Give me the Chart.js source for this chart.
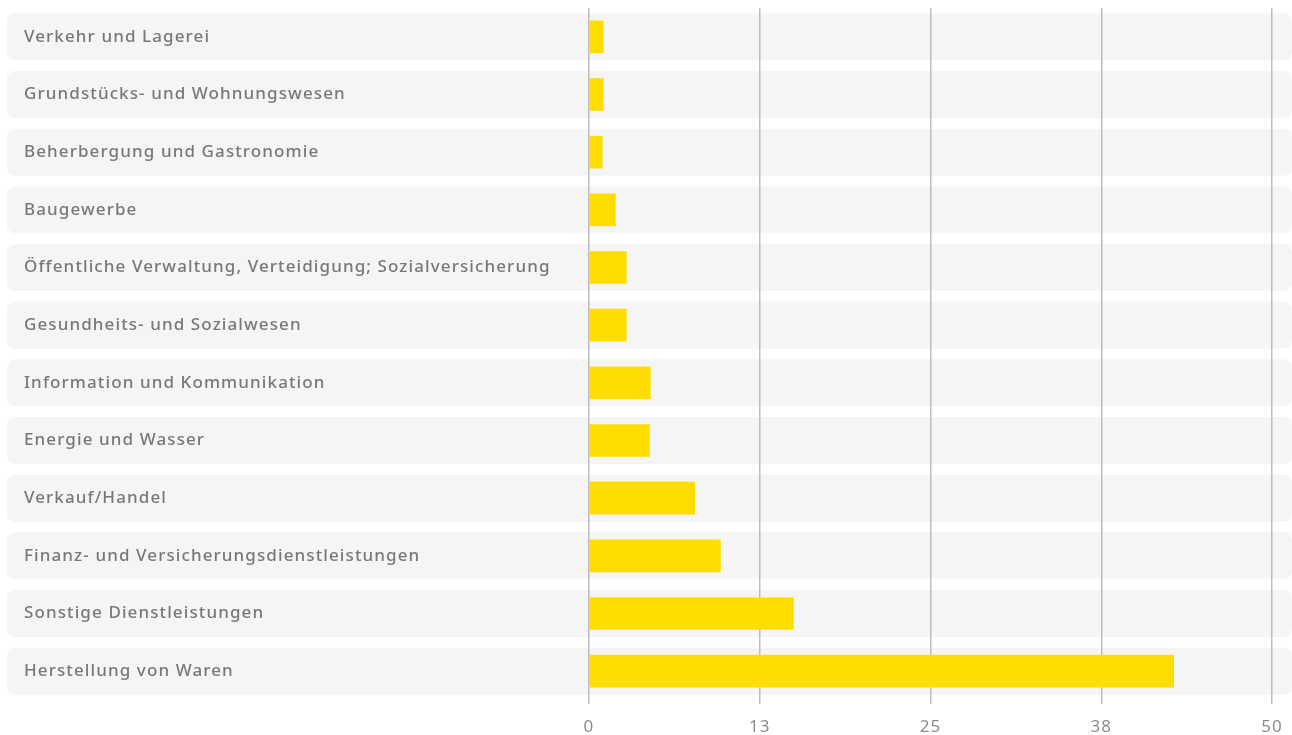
<!DOCTYPE html>
<html>
<head>
<meta charset="utf-8">
<script src="https://cdn.jsdelivr.net/npm/chart.js@4"></script>
<style>
  body { margin: 0; background: #fff; }
  #wrap { width: 1292px; height: 735px; }
</style>
</head>
<body>
<div id="wrap"><canvas id="chart" width="1292" height="735"></canvas></div>
<script>
// Branchen und Werte
var branchen = [
    'Verkehr und Lagerei',
    'Grundstücks- und Wohnungswesen',
    'Beherbergung und Gastronomie',
    'Baugewerbe',
    'Öffentliche Verwaltung, Verteidigung; Sozialversicherung',
    'Gesundheits- und Sozialwesen',
    'Information und Kommunikation',
    'Energie und Wasser',
    'Verkauf/Handel',
    'Finanz- und Versicherungsdienstleistungen',
    'Sonstige Dienstleistungen',
    'Herstellung von Waren'
];
var werte = [1.05, 1.05, 0.97, 1.93, 2.73, 2.73, 4.49, 4.42, 7.74, 9.62, 14.96, 42.8];
var achseMin = 0;
var achseMax = 50;
var achseSchritt = 12.5;

var schrift = "'Noto Sans', sans-serif";

// graue Zeilen-Hintergründe hinter jeder Kategorie
var zeilenPlugin = {
    id: 'zeilen',
    beforeDraw: function(chart) {
        var ctx = chart.ctx;
        var y = chart.scales.y;
        var hoehe = 47;
        // etwas breitere Schrift für alle Beschriftungen
        ctx.letterSpacing = '1.1px';
        ctx.save();
        ctx.fillStyle = '#f5f5f5';
        branchen.forEach(function(b, i) {
            var cy = y.getPixelForValue(i);
            ctx.beginPath();
            ctx.roundRect(7, cy - hoehe / 2, chart.width - 7, hoehe, 8);
            ctx.fill();
        });
        ctx.restore();
    }
};

var ctx = document.getElementById('chart').getContext('2d');
new Chart(ctx, {
    type: 'bar',
    data: {
        labels: branchen,
        datasets: [{
            data: werte,
            backgroundColor: '#ffdd00',
            barThickness: 32
        }]
    },
    options: {
        indexAxis: 'y',
        responsive: false,
        animation: false,
        layout: { padding: { left: 24, right: 20, top: 8, bottom: 0 } },
        plugins: {
            legend: { display: false },
            tooltip: { enabled: false }
        },
        scales: {
            x: {
                min: achseMin,
                max: achseMax,
                border: { display: false },
                grid: {
                    color: '#bdbdbd',
                    lineWidth: 1.5,
                    drawTicks: true,
                    tickLength: 4
                },
                afterFit: function(scale) {
                    scale.height = 35;
                    scale.paddingRight = 0;
                },
                ticks: {
                    stepSize: achseSchritt,
                    padding: 13,
                    color: '#8c8c8c',
                    font: { family: schrift, size: 17 },
                    callback: function(v) { return Math.round(v); }
                }
            },
            y: {
                border: { display: false },
                grid: { display: false, drawTicks: false },
                afterFit: function(scale) {
                    scale.width = 565;
                    scale.paddingTop = 0;
                    scale.paddingBottom = 0;
                },
                ticks: {
                    crossAlign: 'far',
                    color: '#787878',
                    font: { family: schrift, size: 17, weight: '500' }
                }
            }
        }
    },
    plugins: [zeilenPlugin]
});
</script>
</body>
</html>
